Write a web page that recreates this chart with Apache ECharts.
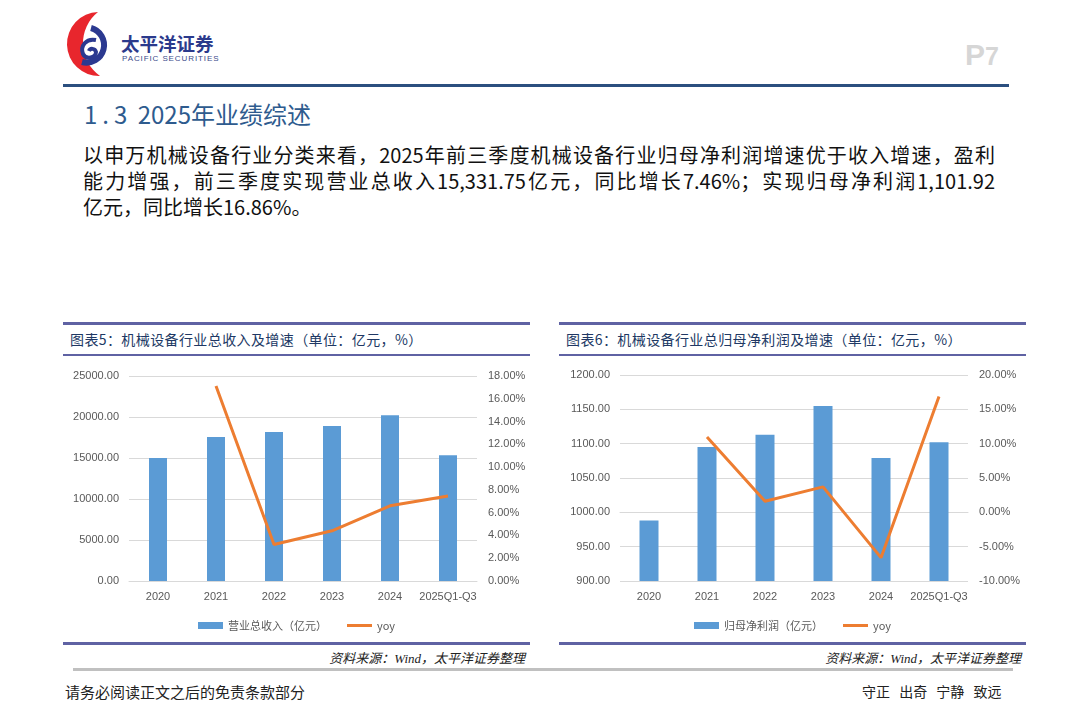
<!DOCTYPE html>
<html><head><meta charset="utf-8">
<script src="https://cdn.jsdelivr.net/npm/echarts@6/dist/echarts.min.js"></script>
<style>
html,body{margin:0;padding:0;background:#fff;}
body{width:1080px;height:723px;position:relative;overflow:hidden;font-family:"Noto Sans CJK SC","Noto Sans",sans-serif;}
.abs{position:absolute;}
.para{left:83px;width:912px;font-size:20px;color:#111;white-space:nowrap;text-align:justify;text-align-last:justify;line-height:26px;}
.boxtitle{font-size:14px;color:#203864;letter-spacing:0.4px;white-space:nowrap;}
.src{font-family:"Liberation Serif","Noto Sans CJK SC",serif;font-style:italic;font-size:13px;color:#222;white-space:nowrap;text-align:right;}
.pline{height:3px;background:#5f62a3;}
</style></head>
<body>
<svg class="abs" style="left:0;top:0" width="230" height="90" viewBox="0 0 230 90">
  <path d="M98,12 A32,32 0 0 0 100,76 A40,40 0 0 1 98,12 Z" fill="#e8262d"/>
  <path d="M91,28 A17,17 0 1 1 82,62" fill="none" stroke="#2b3990" stroke-width="6"/>
  <path d="M96,40 C86,38 80,46 83,54 C86,60 96,58 96,52 C95,48 90,48 89,51" fill="none" stroke="#2b3990" stroke-width="4"/>
  <text x="121" y="51" font-family="Noto Sans CJK SC" font-weight="bold" font-size="18.5" fill="#2b3a8c">太平洋证券</text>
  <text x="122" y="61" font-family="Liberation Sans" font-size="8" letter-spacing="0.9" fill="#3a4a8a">PACIFIC SECURITIES</text>
</svg>
<div class="abs" style="left:965px;top:38px;font-family:'Liberation Sans';font-weight:bold;font-size:30px;color:#d6d6d6;">P<span style="font-size:25px">7</span></div>
<div class="abs" style="left:63px;top:84px;width:946px;height:3px;background:#2b4f7f;"></div>
<div class="abs" style="left:84px;top:96px;font-size:24px;color:#2e5b8e;white-space:nowrap;"><span style="letter-spacing:5px">1.3</span> 2025年业绩综述</div>
<div class="abs para" style="top:142px;">以申万机械设备行业分类来看，2025年前三季度机械设备行业归母净利润增速优于收入增速，盈利</div>
<div class="abs para" style="top:168px;">能力增强，前三季度实现营业总收入15,331.75亿元，同比增长7.46%；实现归母净利润1,101.92</div>
<div class="abs para" style="top:194px;text-align:left;text-align-last:left;">亿元，同比增长16.86%。</div>

<div class="abs pline" style="left:63px;top:322px;width:467px;"></div>
<div class="abs boxtitle" style="left:70px;top:329px;">图表5：机械设备行业总收入及增速（单位：亿元，%）</div>
<div class="abs pline" style="left:63px;top:354px;width:467px;height:2px;"></div>
<div id="c1" class="abs" style="left:63px;top:357px;width:467px;height:285px;"></div>
<div class="abs pline" style="left:63px;top:642px;width:467px;"></div>
<div class="abs src" style="left:300px;width:225px;top:648px;">资料来源：Wind，太平洋证券整理</div>

<div class="abs pline" style="left:559px;top:322px;width:467px;"></div>
<div class="abs boxtitle" style="left:566px;top:329px;">图表6：机械设备行业总归母净利润及增速（单位：亿元，%）</div>
<div class="abs pline" style="left:559px;top:354px;width:467px;height:2px;"></div>
<div id="c2" class="abs" style="left:559px;top:357px;width:467px;height:285px;"></div>
<div class="abs pline" style="left:559px;top:642px;width:467px;"></div>
<div class="abs src" style="left:796px;width:225px;top:648px;">资料来源：Wind，太平洋证券整理</div>

<div class="abs" style="left:73px;top:668px;width:940px;height:3px;background:#c0c0c0;"></div>
<div class="abs" style="left:65px;top:681px;font-size:15px;color:#222;white-space:nowrap;">请务必阅读正文之后的免责条款部分</div>
<div class="abs" style="left:862px;top:681px;font-size:14px;color:#222;white-space:pre;word-spacing:6px;">守正 出奇 宁静 致远</div>

<script>
const categories = ['2020','2021','2022','2023','2024','2025Q1-Q3'];
const revenue = [15000, 17570, 18180, 18910, 20210, 15331.75];
const revenueYoy = [null, 17.12, 3.21, 4.41, 6.60, 7.46];
const profit = [988, 1095, 1113, 1155, 1079, 1101.92];
const profitYoy = [null, 10.96, 1.62, 3.71, -6.60, 16.86];
const revenueName = '营业总收入（亿元）';
const profitName = '归母净利润（亿元）';
const yoyName = 'yoy';

const BAR = '#5b9bd5', LINE = '#ed7d31', GRID = '#d9d9d9', LBL = '#595959';
const FONT = 'Liberation Sans';

function makeOption(cfg){
  return {
    animation:false,
    textStyle:{fontFamily:FONT},
    legend:{
      top:258, left:'center', itemWidth:25, itemHeight:7, itemGap:20,
      textStyle:{color:LBL, fontSize:11, fontFamily:'Noto Sans CJK SC'},
      data:[{name:cfg.barName, icon:'rect'},
            {name:yoyName, icon:'path://M0,0M0,2H25V5H0ZM25,7', itemStyle:{color:LINE}}]
    },
    grid:{left:cfg.gl, right:cfg.gr, top:cfg.gt, bottom:61},
    xAxis:{
      type:'category', data:categories,
      axisLine:{lineStyle:{color:GRID}}, axisTick:{show:false},
      axisLabel:{color:LBL, fontSize:11, margin:10, interval:0}
    },
    yAxis:[
      {type:'value', min:cfg.lmin, max:cfg.lmax, interval:cfg.li,
       axisLine:{show:false}, axisTick:{show:false},
       splitLine:{lineStyle:{color:GRID}},
       axisLabel:{color:LBL, fontSize:11, margin:10, formatter:v=>v.toFixed(2)}},
      {type:'value', min:cfg.rmin, max:cfg.rmax, interval:cfg.ri,
       axisLine:{show:false}, axisTick:{show:false}, splitLine:{show:false},
       axisLabel:{color:LBL, fontSize:11, margin:11, formatter:v=>v.toFixed(2)+'%'}}
    ],
    series:[
      {name:cfg.barName, type:'bar', data:cfg.bars, barWidth:cfg.bw, itemStyle:{color:BAR}},
      {name:yoyName, type:'line', yAxisIndex:1, data:cfg.yoy, symbol:'none', connectNulls:false,
       lineStyle:{color:LINE, width:3}, itemStyle:{color:LINE}}
    ]
  };
}

const c1 = echarts.init(document.getElementById('c1'));
c1.setOption(makeOption({barName:revenueName, bars:revenue, yoy:revenueYoy,
  gl:66, gr:53, gt:19, lmin:0, lmax:25000, li:5000, rmin:0, rmax:18, ri:2, bw:18}));
const c2 = echarts.init(document.getElementById('c2'));
c2.setOption(makeOption({barName:profitName, bars:profit, yoy:profitYoy,
  gl:61, gr:58, gt:18, lmin:900, lmax:1200, li:50, rmin:-10, rmax:20, ri:5, bw:19}));
</script>
</body></html>
